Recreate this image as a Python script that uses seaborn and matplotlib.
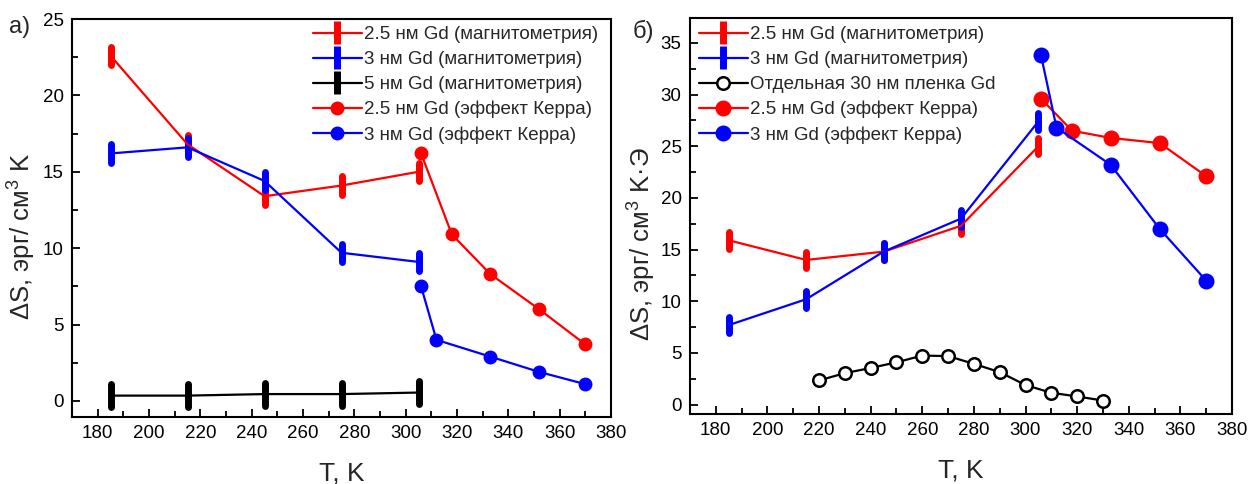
import numpy as np
import pandas as pd
import matplotlib
matplotlib.use("Agg")
import matplotlib.pyplot as plt
from matplotlib.ticker import MultipleLocator
from matplotlib.legend_handler import HandlerErrorbar
from matplotlib.container import ErrorbarContainer
import seaborn as sns

# ---------------- data ----------------
T_mag = [185, 215, 245, 275, 305]
T_kerr = [306, 318, 333, 352, 370]
T_kerr_3 = [306, 312, 333, 352, 370]

# panel a
a_mag25 = [22.6, 16.8, 13.4, 14.1, 15.0]
a_mag3 = [16.2, 16.6, 14.4, 9.7, 9.1]
a_mag5 = [0.35, 0.35, 0.45, 0.45, 0.55]
a_kerr25 = [16.2, 10.9, 8.3, 6.0, 3.7]
a_kerr3 = [7.5, 4.0, 2.9, 1.9, 1.1]

# panel b
b_mag25 = [15.9, 14.0, 14.8, 17.3, 25.0]
b_mag3 = [7.7, 10.2, 14.8, 18.0, 27.4]
T_film = [220, 230, 240, 250, 260, 270, 280, 290, 300, 310, 320, 330]
b_film = [2.35, 3.05, 3.55, 4.1, 4.75, 4.7, 3.95, 3.15, 1.9, 1.15, 0.8, 0.4]
b_kerr25 = [29.6, 26.5, 25.8, 25.3, 22.1]
b_kerr3 = [33.8, 26.8, 23.2, 17.0, 12.0]

lab_mag25 = "2.5 нм Gd (магнитометрия)"
lab_mag3 = "3 нм Gd (магнитометрия)"
lab_mag5 = "5 нм Gd (магнитометрия)"
lab_film = "Отдельная 30 нм пленка Gd"
lab_kerr25 = "2.5 нм Gd (эффект Керра)"
lab_kerr3 = "3 нм Gd (эффект Керра)"

sns.set_theme(style="ticks")
plt.rcParams['font.family'] = ['Liberation Sans', 'DejaVu Sans']
plt.rcParams['mathtext.fontset'] = 'custom'
plt.rcParams['mathtext.rm'] = 'Liberation Sans'
plt.rcParams['axes.linewidth'] = 1.5

RED = "#ff0000"
BLUE = "#0000ff"
BLACK = "#000000"

W, H = 1257, 484
fig = plt.figure(figsize=(W / 100, H / 100), dpi=100)
ax1 = fig.add_axes([72 / W, (H - 417) / H, (611 - 72) / W, (417 - 19) / H])
ax2 = fig.add_axes([690 / W, (H - 414) / H, (1232 - 690) / W, (414 - 18) / H])


def mag(ax, x, y, color, label, err):
    eb = ax.errorbar(x, y, yerr=err, color=color, lw=1.6, elinewidth=5,
                     capsize=0, label=label)
    for lc in eb[2]:
        lc.set_capstyle('round')
    return eb


def kerr(ax, x, y, color, label, ms, mfc=None, mew=1.5):
    df = pd.DataFrame({"T": x, "S": y})
    sns.lineplot(data=df, x="T", y="S", ax=ax, color=color, lw=1.6,
                 marker="o", markersize=ms,
                 markerfacecolor=color if mfc is None else mfc,
                 markeredgecolor=color, markeredgewidth=mew, label=label,
                 legend=False, sort=False)


# panel a
mag(ax1, T_mag, a_mag25, RED, lab_mag25, 0.6)
mag(ax1, T_mag, a_mag3, BLUE, lab_mag3, 0.6)
mag(ax1, T_mag, a_mag5, BLACK, lab_mag5, 0.75)
kerr(ax1, T_kerr, a_kerr25, RED, lab_kerr25, 8.5)
kerr(ax1, T_kerr_3, a_kerr3, BLUE, lab_kerr3, 8.5)

# panel b
mag(ax2, T_mag, b_mag25, RED, lab_mag25, 0.8)
mag(ax2, T_mag, b_mag3, BLUE, lab_mag3, 0.8)
kerr(ax2, T_film, b_film, BLACK, lab_film, 9, mfc="white", mew=1.8)
kerr(ax2, T_kerr, b_kerr25, RED, lab_kerr25, 10)
kerr(ax2, T_kerr_3, b_kerr3, BLUE, lab_kerr3, 10)

for ax in (ax1, ax2):
    ax.set_xlim(170, 380)
    ax.xaxis.set_major_locator(MultipleLocator(20))
    ax.xaxis.set_minor_locator(MultipleLocator(10))
    ax.yaxis.set_major_locator(MultipleLocator(5))
    ax.yaxis.set_minor_locator(MultipleLocator(2.5))
    ax.tick_params(which='both', direction='in', width=1.3, labelsize=13.5,
                   top=False, right=False, colors="black")
    ax.tick_params(which='major', length=6, pad=6)
    ax.tick_params(which='minor', length=4)
    ax.set_xlabel("T, K", fontsize=19, labelpad=14)
    for s in ax.spines.values():
        s.set_visible(True)
        s.set_linewidth(1.5)
        s.set_color("black")

ax1.set_ylim(-1.05, 25)
ax2.set_ylim(-0.9, 37.4)
ax1.set_ylabel("ΔS, эрг/ см$^3$ K", fontsize=18.5)
ax2.set_ylabel("ΔS, эрг/ см$^3$ K·Э", fontsize=18.5)
ax1.yaxis.set_label_coords(-(72 - 37) / (611 - 72), (417 - 236) / (417 - 19))
ax2.yaxis.set_label_coords(-(690 - 657) / (1232 - 690), (414 - 244) / (414 - 18))

leg_kw = dict(frameon=False, fontsize=13.5, handlelength=2.6, handletextpad=0.1,
              labelspacing=0.42, borderpad=0, borderaxespad=0, loc="upper left",
              handler_map={ErrorbarContainer: HandlerErrorbar(yerr_size=0.62)})

hl1, ll1 = ax1.get_legend_handles_labels()
order1 = [lab_mag25, lab_mag3, lab_mag5, lab_kerr25, lab_kerr3]
d1 = dict(zip(ll1, hl1))
ax1.legend([d1[k] for k in order1], order1,
           bbox_to_anchor=((313 - 72) / (611 - 72), 1 - (26 - 19) / 398), **leg_kw)

hl2, ll2 = ax2.get_legend_handles_labels()
order2 = [lab_mag25, lab_mag3, lab_film, lab_kerr25, lab_kerr3]
d2 = dict(zip(ll2, hl2))
ax2.legend([d2[k] for k in order2], order2,
           bbox_to_anchor=((699 - 690) / (1232 - 690), 1 - (26 - 18) / 396), **leg_kw)

fig.text(19.5 / W, 1 - 27 / H, "а)", fontsize=17, va="center", ha="center")
fig.text(643 / W, 1 - 31 / H, "б)", fontsize=17, va="center", ha="center")

fig.savefig("out.png", dpi=100)
